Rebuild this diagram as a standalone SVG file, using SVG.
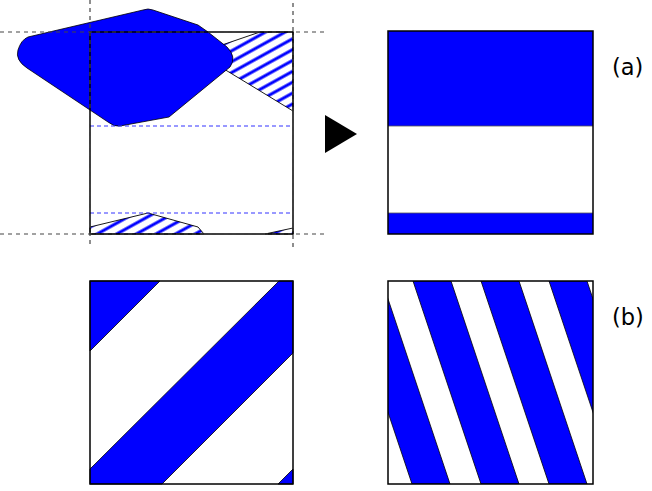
<svg xmlns="http://www.w3.org/2000/svg" width="652" height="491" viewBox="0 0 652 491">
<style>
.box{fill:none;stroke:#000;stroke-width:1.5}
.blue{fill:#0000ff;stroke:#000;stroke-width:0.8;stroke-linejoin:round}
.hatch{fill:url(#hatch);stroke:#000;stroke-width:0.9}
.guide{stroke:#444;stroke-width:1.2;stroke-dasharray:4 4;fill:none}
.bguide{stroke:#3333ff;stroke-width:1;stroke-dasharray:4 3;fill:none}
.lbl{font-family:"DejaVu Sans",sans-serif;font-size:22.5px;fill:#000}
</style>
<defs>
<pattern id="hatch" patternUnits="userSpaceOnUse" width="12" height="9.5" patternTransform="rotate(-29)">
<rect width="12" height="9.5" fill="#fff"/>
<line x1="0" y1="4.75" x2="12" y2="4.75" stroke="#0000ff" stroke-width="3"/>
</pattern>
<clipPath id="clipBR"><rect x="388" y="281" width="205" height="203"/></clipPath>
</defs>

<g id="panel-source">
<rect x="90" y="32" width="203" height="202" fill="#fff"/>
<path class="hatch" d="M260,32 L293,32 L293,111 L219,66 Q212,62 213,57 L213,52 L222,45 Z"/>
<path class="hatch" d="M90,234 L90,227 L148,213 L198,227 L204,234 Z"/>
<path class="hatch" d="M265,234 L293,228 L293,234 Z"/>
<path class="blue" d="M28,37 L143,10 Q148,8 153,10 L198,25 L208,32 L227,47 Q237,57 230,67 L169,117 L120,126 Q114,127 108,122 L27,68 Q15,60 18,50 Q21,40 28,37 Z"/>
<line class="bguide" x1="90" y1="126" x2="293" y2="126"/>
<line class="bguide" x1="90" y1="213" x2="293" y2="213"/>
<rect class="box" x="90" y="32" width="203" height="202"/>
<line class="guide" x1="0" y1="32" x2="327" y2="32"/>
<line class="guide" x1="0" y1="234" x2="327" y2="234"/>
<line class="guide" x1="90" y1="0" x2="90" y2="248"/>
<line class="guide" x1="293" y1="3" x2="293" y2="248"/>
</g>

<g id="arrow">
<polygon points="325,115 325,153 357,134" fill="#000"/>
</g>

<g id="panel-a">
<rect x="388" y="31" width="205" height="203" fill="#fff"/>
<rect x="388" y="31" width="205" height="95" fill="#0000ff"/>
<rect x="388" y="213" width="205" height="21" fill="#0000ff"/>
<line x1="388" y1="126" x2="593" y2="126" stroke="#555" stroke-width="0.8"/>
<line x1="388" y1="213" x2="593" y2="213" stroke="#555" stroke-width="0.8"/>
<rect class="box" x="388" y="31" width="205" height="203"/>
<text class="lbl" x="612" y="75">(a)</text>
</g>

<g id="panel-b-left">
<rect x="90" y="281" width="203" height="203" fill="#fff"/>
<polygon class="blue" points="90,281 160,281 90,351"/>
<polygon class="blue" points="279,281 293,281 293,353 162,484 90,484 90,469"/>
<polygon class="blue" points="293,469 293,484 278,484"/>
<rect class="box" x="90" y="281" width="203" height="203"/>
</g>

<g id="panel-b-right">
<rect x="388" y="281" width="205" height="203" fill="#fff"/>
<g clip-path="url(#clipBR)">
<polygon class="blue" points="344,281 382,281 450,484 412,484"/>
<polygon class="blue" points="413,281 451,281 519,484 481,484"/>
<polygon class="blue" points="481,281 519,281 587,484 549,484"/>
<polygon class="blue" points="549,281 587,281 655,484 617,484"/>
</g>
<rect class="box" x="388" y="281" width="205" height="203"/>
<text class="lbl" x="612" y="325">(b)</text>
</g>
</svg>
